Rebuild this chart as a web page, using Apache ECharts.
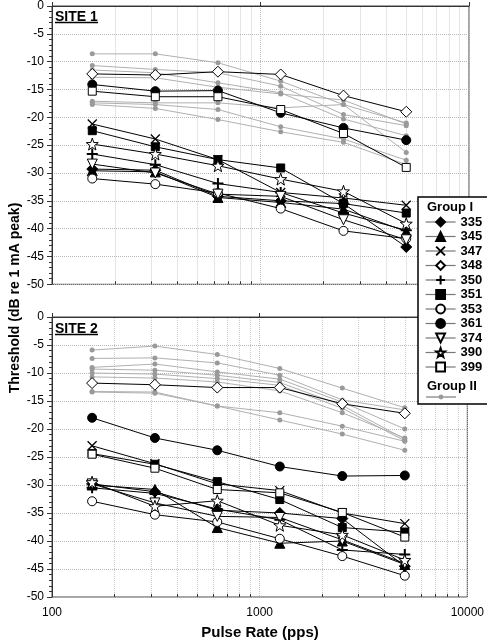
<!DOCTYPE html>
<html><head><meta charset="utf-8">
<script src="https://cdn.jsdelivr.net/npm/echarts@6/dist/echarts.min.js"></script>
<style>html,body{margin:0;padding:0;background:#fff}#c{width:487px;height:642px}</style>
</head><body><div id="c"></div>
<script>
// ---------- DATA ----------
const pulseRates = [156, 313, 625, 1250, 2500, 5000];
const subjectIds = ['335','345','347','348','350','351','353','361','374','390','399'];
const xMinorValues = [200,300,400,500,600,700,800,900,2000,3000,4000,5000,6000,7000,8000,9000];
const panelTitles = ['SITE 1', 'SITE 2'];

// Site 1, Group I
const site1_335 = [-29.3, -29.5, -34.2, -35.0, -35.5, -43.3];
const site1_345 = [-29.6, -29.8, -34.4, -35.3, -36.5, -40.5];
const site1_347 = [-21.2, -23.9, -27.6, -33.5, -34.5, -35.8];
const site1_348 = [-12.2, -12.4, -11.8, -12.3, -16.1, -19.0];
const site1_350 = [-26.6, -28.5, -31.9, -33.5, -37.2, -40.3];
const site1_351 = [-22.4, -25.3, -27.6, -29.1, -35.5, -37.2];
const site1_353 = [-31.0, -32.0, -33.6, -36.4, -40.4, -41.8];
const site1_361 = [-14.1, -15.3, -15.2, -19.2, -21.9, -24.1];
const site1_374 = [-28.4, -30.0, -33.8, -34.2, -38.4, -42.0];
const site1_390 = [-24.8, -26.6, -28.7, -31.1, -33.3, -39.1];
const site1_399 = [-15.3, -16.3, -16.3, -18.6, -22.9, -29.0];

// Site 1, Group II
const site1GroupII = [
  [-8.6, -8.6, -10.2, -13.5, -17.7, -21.0],
  [-10.7, -11.4, -12.0, -14.4, -19.5, -21.5],
  [-11.5, -12.0, -13.8, -15.6, -20.3, -23.3],
  [-12.8, -12.9, -14.6, -15.8, -16.9, -21.2],
  [-17.1, -17.4, -17.4, -18.3, -17.7, -26.3],
  [-17.4, -17.7, -18.6, -21.7, -23.9, -27.7],
  [-17.7, -18.4, -20.4, -22.6, -24.5, -28.5]
];

// Site 2, Group I
const site2_335 = [-29.8, -31.2, -34.5, -35.0, -36.0, -44.5];
const site2_345 = [-30.0, -30.8, -37.6, -40.4, -40.0, -44.2];
const site2_347 = [-23.0, -26.2, -29.8, -31.0, -35.0, -36.9];
const site2_348 = [-11.8, -12.1, -12.6, -12.6, -15.5, -17.2];
const site2_350 = [-30.5, -31.5, -34.3, -36.2, -41.6, -42.4];
const site2_351 = [-24.4, -26.3, -29.4, -32.6, -37.6, -38.4];
const site2_353 = [-32.9, -35.3, -36.6, -39.6, -42.7, -46.2];
const site2_361 = [-18.0, -21.6, -23.8, -26.7, -28.4, -28.3];
const site2_374 = [-29.8, -33.2, -35.6, -35.8, -39.8, -44.0];
const site2_390 = [-29.5, -33.8, -32.8, -37.2, -38.9, -43.4];
const site2_399 = [-24.5, -27.0, -30.8, -31.4, -34.9, -39.3];

// Site 2, Group II
const site2GroupII = [
  [-5.9, -5.2, -6.7, -9.2, -12.7, -16.2],
  [-7.4, -7.3, -8.2, -10.4, -14.8, -16.6],
  [-9.0, -8.4, -9.8, -11.1, -15.2, -20.0],
  [-9.3, -9.5, -10.4, -11.7, -15.8, -21.8],
  [-10.0, -10.2, -11.0, -12.2, -16.3, -22.1],
  [-10.7, -10.9, -11.6, -13.2, -17.1, -21.6],
  [-13.3, -13.4, -15.9, -17.1, -19.5, -22.2],
  [-13.4, -13.6, -15.9, -18.4, -20.9, -23.8]
];

// ---------- STYLE ----------
const FONT = "'Liberation Sans', Arial, sans-serif";
const STAR = 'path://M10,0L12.35,6.76L19.51,6.91L13.8,11.24L15.88,18.09L10,14L4.12,18.09L6.2,11.24L0.49,6.91L7.65,6.76Z';
const XMARK = 'path://M0,0L10,10M10,0L0,10';
const PLUS = 'path://M5,0L5,10M0,5L10,5';
const DOWNTRI = 'path://M0,0L10,0L5,9Z';
const markerStyle = {
  '335': {symbol:'diamond', size:11, fill:'#000', bw:1},
  '345': {symbol:'triangle', size:10, fill:'#000', bw:1},
  '347': {symbol:XMARK, size:9, fill:'#000', bw:1.3},
  '348': {symbol:'diamond', size:11, fill:'#fff', bw:1},
  '350': {symbol:PLUS, size:11, fill:'#000', bw:2},
  '351': {symbol:'rect', size:8, fill:'#000', bw:1},
  '353': {symbol:'circle', size:9, fill:'#fff', bw:1},
  '361': {symbol:'circle', size:9, fill:'#000', bw:1},
  '374': {symbol:DOWNTRI, size:10, fill:'#fff', bw:1},
  '390': {symbol:STAR, size:12, fill:'#fff', bw:1},
  '399': {symbol:'rect', size:8, fill:'#fff', bw:1}
};

const site1GroupI = [site1_335, site1_345, site1_347, site1_348, site1_350, site1_351, site1_353, site1_361, site1_374, site1_390, site1_399];
const site2GroupI = [site2_335, site2_345, site2_347, site2_348, site2_350, site2_351, site2_353, site2_361, site2_374, site2_390, site2_399];
const sites = [{g1: site1GroupI, g2: site1GroupII}, {g1: site2GroupI, g2: site2GroupII}];

// minor vertical grid lines and minor x ticks (through the axes' scales)
function gridMarkLine() {
  const data = [];
  xMinorValues.forEach(v => data.push({xAxis: v}));
  xMinorValues.forEach(v => data.push([{coord:[v, -50]}, {coord:[v, -49.45], lineStyle:{type:'solid', color:'#333', width:1}}]));
  return {
    silent:true, symbol:['none','none'], label:{show:false}, animation:false, z:0,
    emphasis:{disabled:true},
    lineStyle:{type:'dotted', color:'#cccccc', width:1},
    data: data
  };
}

const series = [];
sites.forEach((s, k) => {
  series.push({
    type:'line', name:'grid'+k, xAxisIndex:k, yAxisIndex:k, data:[], symbol:'none',
    markLine: gridMarkLine(), z:0, animation:false
  });
  s.g2.forEach(vals => {
    series.push({
      type:'line', name:'Group II', xAxisIndex:k, yAxisIndex:k,
      data: pulseRates.map((f,i)=>[f, vals[i]]),
      symbol:'circle', symbolSize:5,
      lineStyle:{color:'#b0b0b0', width:1},
      itemStyle:{color:'#9a9a9a'},
      emphasis:{disabled:true}, z:2, animation:false
    });
  });
  s.g1.forEach((vals, j) => {
    const id = subjectIds[j], m = markerStyle[id];
    series.push({
      type:'line', name:id, xAxisIndex:k, yAxisIndex:k,
      data: pulseRates.map((f,i)=>[f, vals[i]]),
      symbol:m.symbol, symbolSize:m.size,
      lineStyle:{color:'#000', width:1},
      itemStyle:{color:m.fill, borderColor:'#000', borderWidth:m.bw},
      emphasis:{disabled:true}, z:3, animation:false
    });
  });
});

const gridDefs = [{top:4.3}, {top:317}];
const grids = gridDefs.map(g => ({left:52, top:g.top, width:417, height:280, show:true, borderColor:'#444', borderWidth:1, backgroundColor:'transparent'}));
const xAxes = gridDefs.map((g,k) => ({
  type:'log', logBase:10, min:100, max:10000, gridIndex:k,
  axisLine:{lineStyle:{color:'#333', width:1}},
  axisTick:{show:true, inside:true, length:4, lineStyle:{color:'#333'}},
  axisLabel:{show:k===1, color:'#000', fontSize:12, fontFamily:FONT, margin:10,
             formatter: v => String(Math.round(v))},
  splitLine:{show:true, lineStyle:{color:'#c0c0c0', type:'dotted', width:1}}
}));
const yAxes = gridDefs.map((g,k) => ({
  type:'value', min:-50, max:0, interval:5, gridIndex:k,
  axisLine:{show:true, lineStyle:{color:'#333', width:1}},
  axisTick:{show:true, length:5, lineStyle:{color:'#333'}},
  minorTick:{show:true, splitNumber:5, length:3, lineStyle:{color:'#333'}},
  axisLabel:{color:'#000', fontSize:12, fontFamily:FONT, margin:8},
  splitLine:{show:true, lineStyle:{color:'#b8b8b8', type:'dotted', width:1}}
}));

const graphics = [
  // legend box
  {type:'rect', shape:{x:418, y:197, width:80, height:207}, style:{fill:'#fff', stroke:'#000', lineWidth:1.5}, z:5},
  {type:'text', x:427, y:207, style:{text:'Group I', font:'bold 13px '+FONT, fill:'#000', textVerticalAlign:'middle'}, z:6},
  {type:'text', x:427, y:386, style:{text:'Group II', font:'bold 13px '+FONT, fill:'#000', textVerticalAlign:'middle'}, z:6},
  // panel titles
  {type:'text', x:55, y:10, style:{text:panelTitles[0], font:'bold 14px '+FONT, fill:'#000'}, z:6},
  {type:'line', shape:{x1:55, y1:22.5, x2:98, y2:22.5}, style:{stroke:'#000', lineWidth:1.3}, z:6},
  {type:'text', x:55, y:322, style:{text:panelTitles[1], font:'bold 14px '+FONT, fill:'#000'}, z:6},
  {type:'line', shape:{x1:55, y1:334.5, x2:98, y2:334.5}, style:{stroke:'#000', lineWidth:1.3}, z:6},
  // axis titles
  {type:'text', x:15, y:298, rotation:Math.PI/2, style:{text:'Threshold (dB re 1 mA peak)', font:'bold 14px '+FONT, fill:'#000', textAlign:'center', textVerticalAlign:'middle'}, z:6},
  {type:'text', x:260, y:633, style:{text:'Pulse Rate (pps)', font:'bold 15px '+FONT, fill:'#000', textAlign:'center', textVerticalAlign:'middle'}, z:6}
];

const chart = echarts.init(document.getElementById('c'), null, {renderer:'canvas'});
chart.setOption({
  animation:false,
  backgroundColor:'#fff',
  grid: grids, xAxis: xAxes, yAxis: yAxes,
  legend: [
    {data: subjectIds, orient:'vertical', left:425, top:215.5, padding:0, itemWidth:30, itemHeight:11, itemGap:1.5,
     selectedMode:false, z:8, lineStyle:{color:'#777', width:1.2},
     textStyle:{fontSize:13, fontWeight:'bold', fontFamily:FONT, color:'#000'}},
    {data:['Group II'], orient:'vertical', left:425, top:394, padding:0, itemWidth:30, itemHeight:6,
     selectedMode:false, z:8, formatter:()=>'', textStyle:{fontSize:1}}
  ],
  graphic: graphics,
  series: series
});
</script></body></html>
